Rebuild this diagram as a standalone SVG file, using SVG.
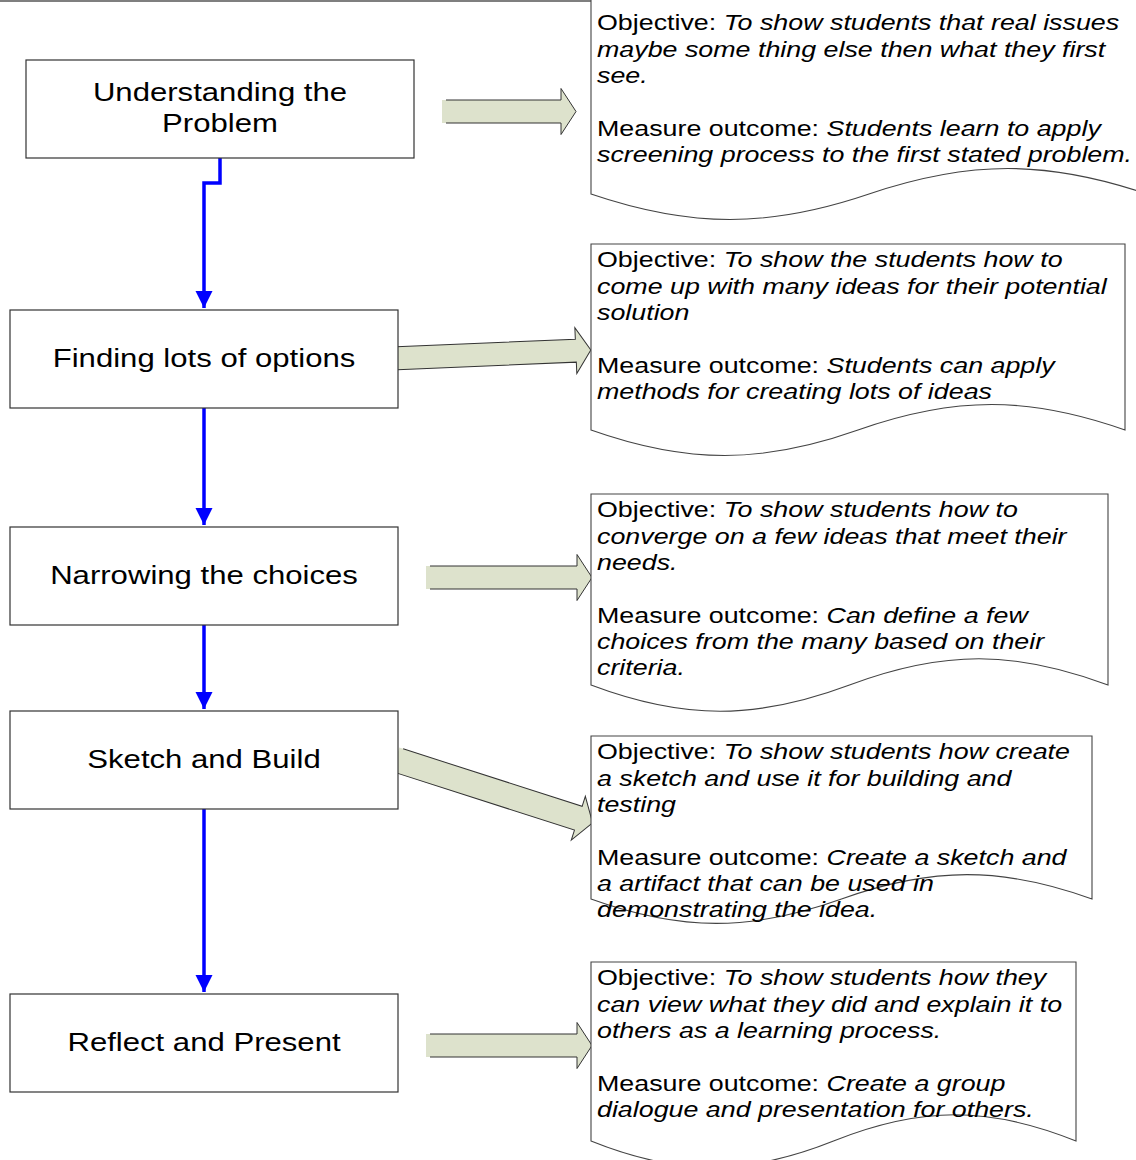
<svg xmlns="http://www.w3.org/2000/svg" width="1136" height="1160" viewBox="0 0 1136 1160">
<style>
.box{fill:#fff;stroke:#333;stroke-width:1.2}
.doc{fill:#fff;stroke:#444;stroke-width:1.1}
.bt{font-family:"Liberation Sans",Arial,sans-serif;font-size:25.5px;fill:#000;text-anchor:middle}
.nt{font-family:"Liberation Sans",Arial,sans-serif;font-size:22px;fill:#000}
.it{font-style:italic}
.afill{fill:#dde2cc;stroke:none}
.aline{fill:none;stroke:#333;stroke-width:1}
.conn{fill:none;stroke:#0000ff;stroke-width:3.5}
</style>
<defs>
<marker id="bh" viewBox="0 0 10 10" refX="10" refY="5" markerWidth="5" markerHeight="5.5" orient="auto" markerUnits="strokeWidth">
<path d="M0,0 L10,5 L0,10 Z" fill="#0000ff"/>
</marker>
</defs>
<rect width="1136" height="1160" fill="#fff"/>
<line x1="0" y1="1" x2="1040" y2="1" stroke="#555" stroke-width="1.5"/>

<g id="connectors">
<path class="conn" d="M220,158 V183 H204 V308" marker-end="url(#bh)"/>
<path class="conn" d="M204,408 V525" marker-end="url(#bh)"/>
<path class="conn" d="M204,625 V709" marker-end="url(#bh)"/>
<path class="conn" d="M204,809 V992" marker-end="url(#bh)"/>
</g>

<g id="block-arrows">
<g id="arrow1" transform="translate(442,111.5)">
<path class="afill" d="M0,-11.5 H119 V-23 L134,0 L119,23 V11.5 H0 Z"/>
<path class="aline" d="M4,-11.5 H119 V-23 L134,0 L119,23 V11.5 H4"/>
</g>
<g id="arrow2" transform="translate(393,358.5) rotate(-2.46)">
<path class="afill" d="M0,-11.5 H183 V-23 L198,0 L183,23 V11.5 H0 Z"/>
<path class="aline" d="M4,-11.5 H183 V-23 L198,0 L183,23 V11.5 H4"/>
</g>
<g id="arrow3" transform="translate(426,577.5)">
<path class="afill" d="M0,-11.5 H151 V-23 L166,0 L151,23 V11.5 H0 Z"/>
<path class="aline" d="M4,-11.5 H151 V-23 L166,0 L151,23 V11.5 H4"/>
</g>
<g id="arrow4" transform="translate(395.5,759.5) rotate(17.8)">
<path class="afill" d="M0,-12.5 H192 V-23 L207,0 L192,23 V12.5 H0 Z"/>
<path class="aline" d="M4,-12.5 H192 V-23 L207,0 L192,23 V12.5 H4"/>
</g>
<g id="arrow5" transform="translate(426,1045.5)">
<path class="afill" d="M0,-11.5 H151 V-23 L166,0 L151,23 V11.5 H0 Z"/>
<path class="aline" d="M4,-11.5 H151 V-23 L166,0 L151,23 V11.5 H4"/>
</g>
</g>

<g id="node1">
<rect class="box" x="26" y="60" width="388" height="98"/>
<text class="bt" transform="translate(220,0) scale(1.22,1)"><tspan x="0" y="101">Understanding the</tspan><tspan x="0" y="132">Problem</tspan></text>
</g>
<g id="node2">
<rect class="box" x="10" y="310" width="388" height="98"/>
<text class="bt" transform="translate(204,0) scale(1.22,1)"><tspan x="0" y="367">Finding lots of options</tspan></text>
</g>
<g id="node3">
<rect class="box" x="10" y="527" width="388" height="98"/>
<text class="bt" transform="translate(204,0) scale(1.22,1)"><tspan x="0" y="584">Narrowing the choices</tspan></text>
</g>
<g id="node4">
<rect class="box" x="10" y="711" width="388" height="98"/>
<text class="bt" transform="translate(204,0) scale(1.22,1)"><tspan x="0" y="768">Sketch and Build</tspan></text>
</g>
<g id="node5">
<rect class="box" x="10" y="994" width="388" height="98"/>
<text class="bt" transform="translate(204,0) scale(1.22,1)"><tspan x="0" y="1051">Reflect and Present</tspan></text>
</g>

<g id="note1">
<path class="doc" d="M591,-5 H1147 V194 C1047,160 969,160 869,194 C769,228 691,228 591,194 Z"/>
<text class="nt" transform="translate(597,0) scale(1.22,1)"><tspan x="0" y="30">Objective: </tspan><tspan class="it">To show students that real issues</tspan><tspan x="0" y="57" class="it">maybe some thing else then what they first</tspan><tspan x="0" y="83" class="it">see.</tspan><tspan x="0" y="136">Measure outcome:  </tspan><tspan class="it">Students learn to apply</tspan><tspan x="0" y="162" class="it">screening process to the first stated problem.</tspan></text>
</g>
<g id="note2">
<path class="doc" d="M591,244 H1125 V430 C1029,396 954,396 858,430 C762,464 687,464 591,430 Z"/>
<text class="nt" transform="translate(597,0) scale(1.22,1)"><tspan x="0" y="267">Objective: </tspan><tspan class="it">To show the students how to</tspan><tspan x="0" y="294" class="it">come up with many ideas for their potential</tspan><tspan x="0" y="320" class="it">solution</tspan><tspan x="0" y="373">Measure outcome: </tspan><tspan class="it">Students can apply</tspan><tspan x="0" y="399" class="it">methods for creating lots of ideas</tspan></text>
</g>
<g id="note3">
<path class="doc" d="M591,494 H1108 V685 C1015,650 943,650 849.5,685 C756,720 684,720 591,685 Z"/>
<text class="nt" transform="translate(597,0) scale(1.22,1)"><tspan x="0" y="517">Objective: </tspan><tspan class="it">To show students how to</tspan><tspan x="0" y="544" class="it">converge on a few ideas that meet their</tspan><tspan x="0" y="570" class="it">needs.</tspan><tspan x="0" y="623">Measure outcome:  </tspan><tspan class="it">Can define a few</tspan><tspan x="0" y="649" class="it">choices from the many based on their</tspan><tspan x="0" y="675" class="it">criteria.</tspan></text>
</g>
<g id="note4">
<path class="doc" d="M591,736 H1092 V899 C1002,866.5 932,866.5 841.5,899 C751,931.5 681,931.5 591,899 Z"/>
<text class="nt" transform="translate(597,0) scale(1.22,1)"><tspan x="0" y="759">Objective: </tspan><tspan class="it">To show students how create</tspan><tspan x="0" y="786" class="it">a sketch and use it for building and</tspan><tspan x="0" y="812" class="it">testing</tspan><tspan x="0" y="865">Measure outcome: </tspan><tspan class="it">Create a sketch and</tspan><tspan x="0" y="891" class="it">a artifact that can be used in</tspan><tspan x="0" y="917" class="it">demonstrating the idea.</tspan></text>
</g>
<g id="note5">
<path class="doc" d="M591,962 H1076 V1141 C989,1106 921,1106 833.5,1141 C746,1176 678,1176 591,1141 Z"/>
<text class="nt" transform="translate(597,0) scale(1.22,1)"><tspan x="0" y="985">Objective: </tspan><tspan class="it">To show students how they</tspan><tspan x="0" y="1012" class="it">can view what they did and explain it to</tspan><tspan x="0" y="1038" class="it">others as a learning process.</tspan><tspan x="0" y="1091">Measure outcome: </tspan><tspan class="it">Create a group</tspan><tspan x="0" y="1117" class="it">dialogue and presentation for others.</tspan></text>
</g>
</svg>
